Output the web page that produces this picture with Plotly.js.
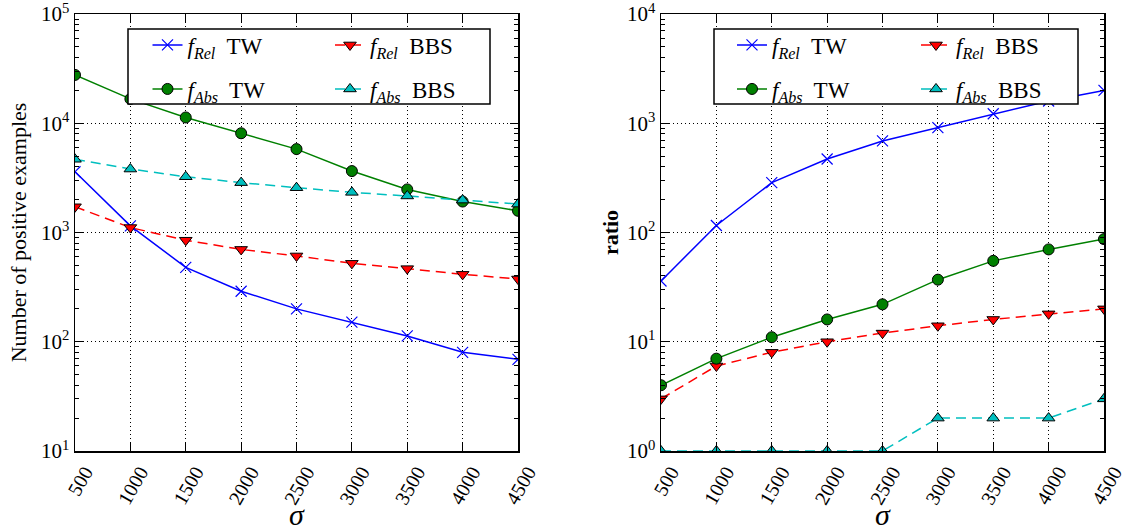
<!DOCTYPE html>
<html><head><meta charset="utf-8">
<script src="https://cdn.plot.ly/plotly-3.0.1.min.js"></script>
<style>html,body{margin:0;padding:0;background:#fff}#chart{width:1126px;height:531px}</style>
</head><body><div id="chart"></div>
<script>
// ---- data ----
const sigma = [500, 1000, 1500, 2000, 2500, 3000, 3500, 4000, 4500];
const countRelTW  = [3600, 1150, 480, 290, 200, 151, 113, 80, 69];
const countAbsTW  = [27700, 16700, 11300, 8100, 5800, 3650, 2480, 1920, 1580];
const countRelBBS = [1720, 1110, 850, 700, 610, 522, 467, 414, 375];
const countAbsBBS = [4680, 3810, 3240, 2860, 2570, 2330, 2160, 1980, 1820];
const ratioRelTW  = [36, 116, 286, 471, 689, 912, 1222, 1600, 2000];
const ratioAbsTW  = [4, 7, 11, 16, 22, 37, 55, 70, 87];
const ratioRelBBS = [3, 6, 8, 10, 12, 14, 16, 18, 20];
const ratioAbsBBS = [1, 1, 1, 1, 1, 2, 2, 2, 3];
const leftTickVals  = [10, 100, 1000, 10000, 100000];
const leftTickText  = ['10<sup>1</sup>', '10<sup>2</sup>', '10<sup>3</sup>', '10<sup>4</sup>', '10<sup>5</sup>'];
const rightTickVals = [1, 10, 100, 1000, 10000];
const rightTickText = ['10<sup>0</sup>', '10<sup>1</sup>', '10<sup>2</sup>', '10<sup>3</sup>', '10<sup>4</sup>'];
const seriesNames = [
  '<i>f</i><sub><i>Rel</i></sub>&nbsp; TW',
  '<i>f</i><sub><i>Rel</i></sub>&nbsp; BBS',
  '<i>f</i><sub><i>Abs</i></sub>&nbsp; TW',
  '<i>f</i><sub><i>Abs</i></sub>&nbsp; BBS'
];
const xTitle = '<i>σ</i>';
const leftYTitle = 'Number of positive examples';
const rightYTitle = 'ratio';

// ---- layout helpers ----
const W = 1126, H = 531;
const M = {l: 75, r: 22, t: 14, b: 80};
const PW = W - M.l - M.r, PH = H - M.t - M.b;
const px = v => (v - M.l) / PW;
const py = v => (H - M.b - v) / PH;
const FONT = "'Liberation Serif', 'Times New Roman', serif";

const styles = [
  {line: {color: '#0000FF', width: 1.5}, marker: {symbol: 'x-thin', size: 11, line: {color: '#0000FF', width: 1.2}, color: '#0000FF'}},
  {line: {color: '#FF0000', width: 1.5, dash: '10px,6px'}, marker: {symbol: 'triangle-down', size: 11, color: '#FF0000', line: {color: '#000', width: 1}}},
  {line: {color: '#008000', width: 1.5}, marker: {symbol: 'circle', size: 11, color: '#008000', line: {color: '#000', width: 1}}},
  {line: {color: '#00BFBF', width: 1.5, dash: '10px,6px'}, marker: {symbol: 'triangle-up', size: 11, color: '#00BFBF', line: {color: '#000', width: 1}}}
];
const leftSeries = [countRelTW, countRelBBS, countAbsTW, countAbsBBS];
const rightSeries = [ratioRelTW, ratioRelBBS, ratioAbsTW, ratioAbsBBS];

const traces = [];
const legendIds = ['legend', 'legend2', 'legend3', 'legend4', 'legend5', 'legend6', 'legend7', 'legend8'];
leftSeries.forEach((ys, i) => traces.push(Object.assign({
  x: sigma, y: ys, type: 'scatter', mode: 'lines+markers', name: seriesNames[i],
  xaxis: 'x', yaxis: 'y', legend: legendIds[i]
}, JSON.parse(JSON.stringify(styles[i])))));
rightSeries.forEach((ys, i) => traces.push(Object.assign({
  x: sigma, y: ys, type: 'scatter', mode: 'lines+markers', name: seriesNames[i],
  xaxis: 'x2', yaxis: 'y2', legend: legendIds[i + 4]
}, JSON.parse(JSON.stringify(styles[i])))));

// legend entry positions
const rowY = [45, 89];
const colTextLeft = [187.5, 370];
const colTextRight = [772, 956];
const TEXT_OFF = 40;
const legendBase = {
  xanchor: 'left', yanchor: 'middle', bgcolor: 'rgba(0,0,0,0)', borderwidth: 0,
  font: {family: FONT, size: 23, color: '#000'}, itemclick: false, itemdoubleclick: false
};
const legendPos = [
  [colTextLeft[0], rowY[0]], [colTextLeft[1], rowY[0]], [colTextLeft[0], rowY[1]], [colTextLeft[1], rowY[1]],
  [colTextRight[0], rowY[0]], [colTextRight[1], rowY[0]], [colTextRight[0], rowY[1]], [colTextRight[1], rowY[1]]
];

const xaxisBase = {
  type: 'linear', range: [500, 4500], tick0: 500, dtick: 500, tickangle: -60,
  ticks: 'inside', ticklen: 8, tickwidth: 1, tickcolor: '#000',
  showline: true, linecolor: '#000', linewidth: 1.5, mirror: 'allticks',
  showgrid: true, gridcolor: '#000', gridwidth: 1, griddash: '1px,3px',
  zeroline: false, tickfont: {family: FONT, size: 20, color: '#000'},
  ticklabelshift: 10, ticklabeloverflow: 'allow',
  title: {text: xTitle, font: {family: FONT, size: 30, color: '#000'}, standoff: 4},
  automargin: false
};
const yaxisBase = {
  type: 'log', tickmode: 'array',
  ticks: 'inside', ticklen: 8, tickwidth: 1, tickcolor: '#000',
  showline: true, linecolor: '#000', linewidth: 1.5, mirror: 'allticks',
  showgrid: true, gridcolor: '#000', gridwidth: 1, griddash: '1px,3px',
  zeroline: false, tickfont: {family: FONT, size: 21, color: '#000'},
  ticklabeloverflow: 'allow',
  minor: {ticks: 'inside', ticklen: 4, tickwidth: 1, tickcolor: '#000', dtick: 'D1', showgrid: false},
  automargin: false
};

const layout = {
  width: W, height: H, margin: M, paper_bgcolor: '#fff', plot_bgcolor: '#fff',
  font: {family: FONT, color: '#000'},
  xaxis: Object.assign({}, xaxisBase, {domain: [0, px(518)], anchor: 'y'}),
  xaxis2: Object.assign({}, xaxisBase, {domain: [px(661), 1], anchor: 'y2', title: Object.assign({}, xaxisBase.title)}),
  yaxis: Object.assign({}, yaxisBase, {domain: [0, 1], anchor: 'x', range: [0.9999, 5.0001],
    tickvals: leftTickVals, ticktext: leftTickText,
    title: {text: leftYTitle, font: {family: FONT, size: 22, color: '#000'}, standoff: 8}}),
  yaxis2: Object.assign({}, yaxisBase, {domain: [0, 1], anchor: 'x2', range: [-0.0001, 4.0001],
    tickvals: rightTickVals, ticktext: rightTickText,
    title: {text: '<b>' + rightYTitle + '</b>', font: {family: FONT, size: 22, color: '#000'}, standoff: 2}}),
  shapes: [
    {type: 'rect', xref: 'paper', yref: 'paper', x0: px(128), x1: px(490), y0: py(104), y1: py(29),
     fillcolor: '#fff', line: {color: '#000', width: 1.5}, layer: 'above'},
    {type: 'rect', xref: 'paper', yref: 'paper', x0: px(714), x1: px(1078), y0: py(104), y1: py(29),
     fillcolor: '#fff', line: {color: '#000', width: 1.5}, layer: 'above'}
  ],
  showlegend: true
};
legendIds.forEach((id, i) => {
  layout[id] = Object.assign({}, legendBase, {x: px(legendPos[i][0] - TEXT_OFF), y: py(legendPos[i][1])});
});

Plotly.newPlot('chart', traces, layout, {staticPlot: true, displayModeBar: false});
</script>
</body></html>
